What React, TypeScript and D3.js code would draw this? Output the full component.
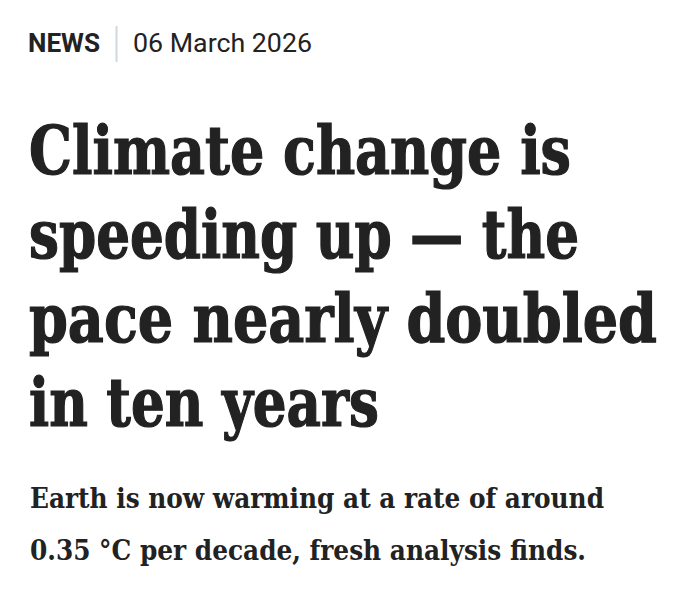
import React from 'react';
import * as d3 from 'd3';

const section = 'NEWS';
const dateLabel = '06 March 2026';
const headlineLines = ['Climate change is', 'speeding up — the', 'pace nearly doubled', 'in ten years'];
const standfirstLines = ['Earth is now warming at a rate of around', '0.35 °C per decade, fresh analysis finds.'];

// rendered widths of each line in the reference (px)
const headlineWidths = [542, 550, 628, 350];
const standfirstWidths = [574, 556];

const width = 680;
const height = 602;
const left = 29;
const ink = '#222222';
const serif = '"DejaVu Serif Condensed", "DejaVu Serif", serif';
const sans = 'Roboto, "Noto Sans", sans-serif';

export default function App() {
  const headY = d3.scaleLinear().domain([0, headlineLines.length - 1]).range([174, 426]);
  const standY = d3.scaleLinear().domain([0, standfirstLines.length - 1]).range([508, 560]);

  return (
    <svg
      width={width}
      height={height}
      style={{ position: 'absolute', left: 0, top: 0, background: '#fff' }}
    >
      <rect width={width} height={height} fill="#fff" />
      <text x={28} y={52} fontFamily={sans} fontWeight={700} fontSize={25.5} fill={ink} textLength={72} lengthAdjust="spacingAndGlyphs">
        {section}
      </text>
      <line x1={116.5} x2={116.5} y1={26} y2={62} stroke="#cfd8dc" strokeWidth={2} />
      <text x={133} y={52} fontFamily={sans} fontWeight={400} fontSize={25.5} fill={ink} textLength={179} lengthAdjust="spacingAndGlyphs">
        {dateLabel}
      </text>

      {headlineLines.map((line, i) => (
        <text
          key={line}
          x={left}
          y={headY(i)}
          fontFamily={serif}
          fontWeight={700}
          fontStretch="condensed"
          fontSize={67}
          fill={ink}
          stroke={ink}
          strokeWidth={1.2}
          textLength={headlineWidths[i]}
          lengthAdjust="spacingAndGlyphs"
        >
          {line}
        </text>
      ))}

      {standfirstLines.map((line, i) => (
        <text
          key={line}
          x={left + 1}
          y={standY(i)}
          fontFamily={serif}
          fontWeight={700}
          fontStretch="condensed"
          fontSize={27.5}
          fill={ink}
          textLength={standfirstWidths[i]}
          lengthAdjust="spacingAndGlyphs"
        >
          {line}
        </text>
      ))}
    </svg>
  );
}
